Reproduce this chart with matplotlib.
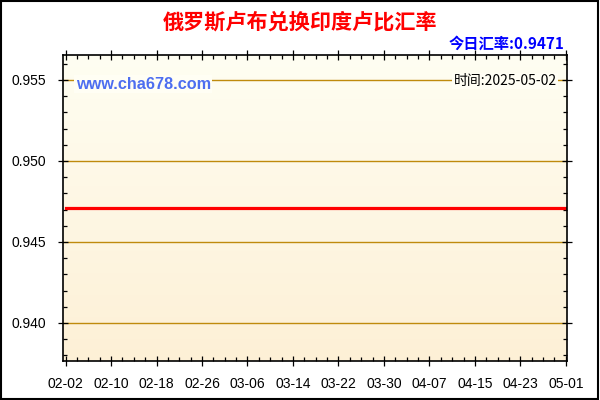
import numpy as np
import pandas as pd
import matplotlib
matplotlib.use('Agg')
import matplotlib.pyplot as plt
from matplotlib.ticker import MultipleLocator, FixedLocator

plt.rcParams['font.family'] = ['Liberation Sans', 'Noto Sans CJK SC', 'DejaVu Sans']

# data
start_date = '2025-02-02'
line_dates = ['2025-02-02', '2025-05-01']
line_rates = [0.9471, 0.9471]
tick_dates = ['02-02', '02-10', '02-18', '02-26', '03-06', '03-14', '03-22',
              '03-30', '04-07', '04-15', '04-23', '05-01']
y_ticks = [0.940, 0.945, 0.950, 0.955]
today_rate = '0.9471'
stamp = '2025-05-02'

t0 = pd.Timestamp(start_date)
x_line = [(pd.Timestamp(d) - t0).days for d in line_dates]
x_ticks = [(pd.Timestamp('2025-' + d) - t0).days for d in tick_dates]

fig = plt.figure(figsize=(6, 4), dpi=100)
fig.patch.set_facecolor('white')
# outer black frame
fig.add_artist(plt.Rectangle((0.002, 0.003), 0.995, 0.994, transform=fig.transFigure,
                             fill=False, edgecolor='black', linewidth=1.5))

ax = fig.add_axes([0.105, 0.0975, 0.84, 0.765])
ax.set_xlim(-0.45, 88.2)
ax.set_ylim(0.93765, 0.95654)

# background gradient, cream at the top to light tan at the bottom
grad = np.linspace(0, 1, 256).reshape(-1, 1)
top = np.array([255, 254, 242]) / 255
bot = np.array([253, 240, 214]) / 255
img = top + (bot - top) * grad[:, :, None] * np.ones((1, 1, 3))
ax.imshow(img, extent=[-0.45, 88.2, 0.93765, 0.95654], aspect='auto', zorder=0)

for yv in y_ticks:
    ax.axhline(yv, color='#bf8a0c', linewidth=1, zorder=1)

ax.plot(x_line, line_rates, color='#ff0000', linewidth=2.3, zorder=3)

ax.xaxis.set_major_locator(FixedLocator(x_ticks))
ax.set_xticklabels(tick_dates)
ax.xaxis.set_minor_locator(MultipleLocator(2))
ax.yaxis.set_major_locator(FixedLocator(y_ticks))
ax.set_yticklabels(['%.3f' % v for v in y_ticks])
ax.yaxis.set_minor_locator(MultipleLocator(0.001))

ax.tick_params(axis='both', which='both', direction='in', top=True, right=True,
               labelsize=10, colors='black')
ax.tick_params(axis='both', which='major', length=5, width=0.9, pad=6)
ax.tick_params(axis='both', which='minor', length=3, width=0.9)
ax.tick_params(axis='y', which='major', direction='inout', length=7, pad=9)
ax.tick_params(axis='x', which='major', direction='inout', length=7, pad=8)
for s in ax.spines.values():
    s.set_linewidth(1.2)
    s.set_zorder(4)

fig.text(0.5, 0.945, '俄罗斯卢布兑换印度卢比汇率', ha='center', va='center',
         fontsize=15.2, fontweight='bold', color='#ff0000',
         family=['Noto Sans CJK SC', 'DejaVu Sans'])
fig.text(0.94, 0.89, '今日汇率:' + today_rate, ha='right', va='center',
         fontsize=11, fontweight='bold', color='#0000ff',
         family=['Noto Sans CJK SC', 'DejaVu Sans'])

ax.text(0.025, 0.905, 'www.cha678.com', transform=ax.transAxes, ha='left', va='center',
        fontsize=11.7, fontweight='bold', color='#4d6ef0', zorder=5,
        bbox=dict(facecolor='#fffef4', edgecolor='none', pad=1))
ax.text(0.98, 0.915, '时间:' + stamp, transform=ax.transAxes, ha='right', va='center',
        fontsize=10, color='black', zorder=5,
        family=['Noto Sans CJK SC', 'DejaVu Sans'],
        bbox=dict(facecolor='#fffef4', edgecolor='none', pad=1))

fig.savefig('out.png', dpi=100)
